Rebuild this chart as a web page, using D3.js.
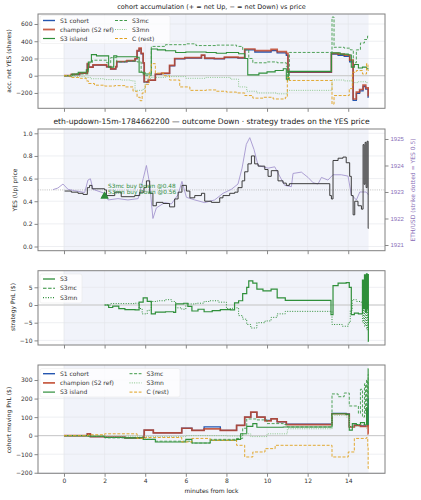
<!DOCTYPE html>
<html><head><meta charset="utf-8">
<script src="https://cdn.jsdelivr.net/npm/d3@7"></script>
<style>body{margin:0;background:#fff;} svg{display:block;font-family:"DejaVu Sans",sans-serif;}</style>
</head><body><svg id="c" width="421" height="500"></svg>
<script>
// ---------- data ----------
const xTickValues = [0,2,4,6,8,10,12,14];
const accTicks = [-200,0,200,400,600];
const priceTicks = [0,0.2,0.4,0.6,0.8,1.0];
const ethTicks = [1921,1922,1923,1924,1925];
const pnlTicks = [-10,-5,0,5];
const movTicks = [-200,-100,0,100,200,300];

const cohortNames = ["S1 cohort","champion (S2 ref)","S3 island","S3mc","S3mn","C (rest)"];
const stratNames = ["S3","S3mc","S3mn"];

// panel 1: accumulated net YES shares  [minutes, shares]
const accS1 = [[0,0],[0.36,12],[0.77,28],[1.15,135],[1.22,98],[1.43,122],[2.1,102],[2.3,78],[2.55,102],[2.6,160],[3.1,170],[3.5,195],[3.6,285],[3.7,312],[3.8,255],[3.9,145],[3.95,-75],[4.15,-55],[4.5,15],[4.8,25],[5.2,115],[5.45,195],[5.95,205],[6.77,235],[6.93,200],[7.4,195],[7.9,210],[8.57,205],[8.9,300],[9.4,275],[10.2,290],[10.5,265],[10.95,235],[11.03,40],[13.17,250],[13.5,235],[13.8,225],[14.07,160],[14.24,-285],[14.4,-205],[14.56,-175],[14.73,-125],[14.86,-155],[14.98,-250],[15.0,-250]];
const accChamp = [[0,0],[0.36,15],[0.77,30],[1.15,140],[1.22,100],[1.43,125],[2.1,105],[2.3,80],[2.55,105],[2.6,165],[3.1,175],[3.5,200],[3.6,290],[3.7,320],[3.8,260],[3.9,150],[3.95,-70],[4.15,-50],[4.5,20],[4.8,30],[5.2,120],[5.45,200],[5.95,210],[6.77,240],[6.93,205],[7.4,200],[7.9,215],[8.57,210],[8.9,310],[9.4,290],[10.2,305],[10.5,280],[10.95,260],[11.03,45],[13.17,260],[13.5,250],[13.8,240],[14.07,180],[14.24,-270],[14.4,-190],[14.56,-160],[14.73,-110],[14.86,-140],[14.98,-230],[15.0,-230]];
const accS3 = [[0,0],[0.4,20],[0.7,40],[1.1,70],[1.2,160],[1.35,245],[1.6,230],[2.1,230],[2.2,100],[2.45,230],[2.6,220],[3.0,220],[3.6,215],[3.7,40],[3.9,20],[4.3,310],[4.6,300],[5.0,290],[5.5,270],[6.0,275],[7.0,270],[7.5,260],[8.0,270],[8.6,255],[8.9,200],[9.05,10],[9.6,30],[10.0,45],[10.4,60],[10.8,80],[10.95,-40],[11.05,50],[13.17,265],[13.6,250],[14.0,240],[14.15,100],[14.3,130],[14.5,90],[14.7,100],[14.9,80],[15.0,80]];
const accS3mc = [[0,0],[0.5,20],[1.2,150],[1.4,180],[2.1,150],[2.3,210],[2.6,160],[3.0,170],[3.6,160],[3.8,40],[4.0,0],[4.3,340],[5.0,360],[6.0,370],[6.5,350],[7.5,355],[8.5,340],[8.8,300],[9.1,200],[9.3,150],[10.0,160],[10.5,150],[10.95,110],[11.0,-60],[11.1,270],[13.17,270],[13.2,680],[13.3,330],[13.8,320],[14.1,300],[14.25,150],[14.4,300],[14.6,380],[14.8,420],[14.95,460],[15.0,460]];
const accS3mn = [[0,0],[0.5,-10],[1.0,-20],[1.3,-35],[2.0,-45],[2.8,-50],[3.3,-60],[3.5,-170],[3.9,-150],[4.0,-30],[4.3,-20],[5.0,-10],[6.0,-30],[7.0,-20],[8.2,-40],[8.6,-130],[9.0,-180],[9.5,-200],[10.5,-210],[11.0,-170],[13.2,-50],[13.8,-60],[14.2,-80],[14.5,-70],[14.9,-80],[15.0,-80]];
const accRest = [[0,0],[0.3,-20],[0.8,-30],[1.1,-60],[1.2,-90],[1.5,-110],[2.0,-120],[2.5,-115],[3.0,-130],[3.4,-180],[3.6,-250],[3.75,-290],[3.85,-200],[4.0,-100],[4.2,40],[4.3,140],[4.5,30],[4.9,0],[5.2,-50],[5.7,-130],[6.2,-170],[7.0,-165],[7.5,-180],[8.0,-190],[8.5,-200],[8.9,-230],[9.3,-260],[9.8,-250],[10.3,-270],[10.9,-250],[11.0,-20],[11.1,-55],[13.15,-55],[13.2,-330],[13.3,-230],[13.9,-230],[14.05,-150],[14.2,40],[14.4,60],[14.7,20],[14.9,140],[14.97,60],[15.0,60]];

// panel 2: YES price (step) and ETH/USD
const yesPrice = [[0.03,0.49],[0.36,0.48],[0.69,0.47],[0.94,0.46],[1.15,0.52],[1.26,0.54],[1.38,0.51],[2.0,0.50],[2.09,0.45],[2.5,0.48],[2.82,0.44],[3.48,0.45],[3.73,0.48],[3.94,0.52],[4.06,0.58],[4.22,0.47],[4.38,0.36],[4.55,0.39],[4.88,0.38],[5.2,0.35],[5.45,0.42],[5.62,0.48],[5.81,0.54],[6.03,0.49],[6.2,0.43],[6.44,0.45],[6.77,0.47],[6.93,0.40],[7.26,0.39],[7.67,0.43],[7.83,0.45],[8.16,0.47],[8.41,0.48],[8.57,0.52],[8.77,0.58],[8.9,0.66],[9.06,0.73],[9.23,0.80],[9.39,0.73],[9.56,0.71],[9.89,0.68],[10.05,0.62],[10.21,0.67],[10.54,0.58],[10.79,0.56],[10.95,0.54],[11.1,0.555],[13.0,0.555],[13.09,0.45],[13.17,0.42],[13.25,0.76],[13.5,0.78],[13.74,0.79],[13.9,0.74],[14.07,0.62],[14.15,0.45],[14.24,0.28],[14.32,0.40],[14.48,0.36],[14.65,0.33],[14.73,0.90],[14.78,0.55],[14.83,0.92],[14.88,0.52],[14.93,0.93],[14.98,0.16],[15.0,0.16]];
const ethUsd = [[-0.54,1923.09],[-0.3,1923.15],[-0.05,1923.3],[0.2,1923.1],[0.53,1923.05],[1.02,1922.98],[1.18,1923.45],[1.3,1923.5],[1.43,1923.1],[2.0,1922.95],[2.17,1922.7],[2.66,1922.75],[3.15,1922.7],[3.65,1922.75],[3.9,1923.5],[4.06,1924.0],[4.22,1923.3],[4.38,1922.0],[4.55,1922.4],[4.96,1922.6],[5.29,1922.55],[5.62,1922.9],[5.81,1923.4],[6.03,1922.8],[6.44,1922.7],[6.93,1922.6],[7.42,1922.7],[7.83,1922.95],[8.24,1923.1],[8.57,1923.3],[8.77,1923.9],[8.98,1924.8],[9.15,1925.05],[9.36,1924.6],[9.56,1924.0],[10.05,1923.9],[10.38,1923.95],[10.62,1923.6],[10.87,1923.25],[11.2,1923.2],[11.28,1923.7],[11.69,1923.75],[12.02,1923.55],[12.27,1923.35],[12.51,1923.3],[12.68,1923.55],[13.0,1923.45],[13.25,1923.65],[13.66,1923.65],[13.99,1923.6],[14.15,1922.9],[14.4,1922.7],[14.57,1923.0],[14.89,1923.0],[14.98,1922.9]];
const strikeYes = 0.5;
const trades = [["S3mc buy Down @0.48",2.0,0.45],["S3mn buy Down @0.56",2.0,0.45]];

// panel 3: strategy PnL ($)
const pnlS3 = [[2.0,0],[2.2,-0.7],[2.4,-0.3],[2.7,-1.0],[3.0,-1.3],[3.5,-1.4],[3.7,0.8],[3.9,2.0],[4.1,1.0],[4.3,-2.5],[4.5,-2.0],[5.0,-1.9],[5.4,-2.1],[5.5,0.3],[5.9,0.5],[6.1,-0.4],[6.3,-1.7],[6.6,-1.2],[6.9,-1.9],[7.3,-1.6],[7.7,-1.3],[8.2,-1.4],[8.4,0.6],[8.6,1.2],[8.8,3.2],[9.0,5.0],[9.1,6.8],[9.3,6.2],[9.5,4.5],[9.8,4.0],[10.2,4.5],[10.5,2.0],[10.9,1.3],[13.1,1.3],[13.15,-2.7],[13.25,5.5],[13.5,6.2],[13.9,6.3],[14.05,5.0],[14.15,-2.7],[14.3,-2.3],[14.5,-2.5],[14.7,7.0],[14.75,-1],[14.8,8.5],[14.85,-2],[14.9,8.8],[14.93,-1],[14.96,8.6],[14.99,-10.3],[15.0,-10.3]];
const pnlS3mc = [];
const pnlS3mn = [[2.0,0],[2.3,0.4],[3.5,0.5],[3.7,-1.0],[3.85,-2.5],[4.1,-1.5],[4.3,1.0],[4.6,1.2],[5.0,1.5],[5.3,1.0],[5.5,-0.8],[5.8,-1.2],[6.0,0.3],[6.5,0.5],[6.9,1.0],[7.2,1.2],[7.6,0.8],[8.0,-1.0],[8.3,-0.8],[8.6,-3.0],[8.8,-4.0],[9.0,-5.5],[9.2,-6.5],[9.5,-5.0],[9.9,-4.5],[10.2,-3.5],[10.5,-2.5],[10.9,-1.8],[13.1,-1.8],[13.2,-5.5],[13.7,-6.0],[14.0,-5.0],[14.1,-1.5],[14.2,1.5],[14.4,1.0],[14.6,0.8],[14.7,-5],[14.75,0],[14.8,-6],[14.85,0.5],[14.9,-7],[14.95,1],[14.99,-4],[15.0,-4]];

// panel 4: cohort moving PnL ($)
const movS1 = [[0,0],[1.15,10],[1.3,-5],[2.0,-8],[3.0,-12],[3.9,-8],[3.95,30],[4.4,15],[5.0,15],[5.8,40],[6.3,28],[6.9,47],[7.7,28],[8.5,55],[8.9,100],[9.2,125],[9.5,100],[9.9,82],[10.2,92],[10.5,75],[10.95,62],[13.15,62],[13.2,120],[13.9,117],[14.05,49],[14.3,57],[14.6,52],[14.9,57],[14.98,200],[15.0,200]];
const movChamp = [[0,0],[1.15,10],[1.3,-5],[2.0,-8],[3.0,-12],[3.9,-8],[3.95,30],[4.4,15],[5.0,15],[5.8,40],[6.3,28],[6.9,37],[7.7,28],[8.5,55],[8.9,100],[9.2,127],[9.5,100],[9.9,80],[10.2,90],[10.5,75],[10.95,60],[13.15,60],[13.2,118],[13.9,115],[14.05,47],[14.3,55],[14.6,50],[14.9,55],[14.98,10],[15.0,10]];
const movS3 = [[0,0],[1.2,-3],[2.0,-10],[3.0,-12],[3.9,-20],[4.5,-34],[6.0,-20],[6.3,-40],[7.2,-25],[8.5,-20],[8.7,10],[9.0,50],[9.3,65],[9.5,45],[10.0,45],[10.8,47],[13.15,47],[13.2,118],[13.9,115],[14.05,30],[14.2,65],[14.4,60],[14.6,70],[14.8,60],[14.9,150],[14.95,60],[14.98,360],[15.0,360]];
const movS3mc = [[0,0],[1.2,-3],[2.0,-12],[3.9,-20],[4.5,-30],[6.3,-40],[7.2,-20],[8.5,-15],[8.8,40],[9.0,90],[9.5,85],[10.0,65],[10.8,60],[11.0,47],[13.15,47],[13.2,225],[13.5,210],[13.8,230],[14.05,160],[14.3,160],[14.5,120],[14.6,250],[14.7,100],[14.8,280],[14.85,120],[14.9,300],[14.95,150],[14.98,330],[15.0,330]];
const movS3mn = [[0,0],[2.0,-3],[4.0,-5],[6.0,0],[8.0,-2],[8.8,10],[9.2,-5],[10.0,10],[11.0,37],[13.15,37],[13.2,110],[13.9,100],[14.05,50],[14.5,60],[14.9,40],[15.0,40]];
const movRest = [[0,0],[1.2,5],[2.0,10],[3.6,-15],[4.0,-10],[5.8,-34],[6.3,-15],[7.2,-25],[8.5,-52],[8.9,-115],[9.3,-88],[9.9,-70],[10.4,-52],[13.15,-52],[13.2,-115],[14.0,-88],[14.3,-15],[14.9,-10],[14.96,-60],[14.98,-177],[15.0,-177]];

// ---------- drawing ----------
const svg = d3.select("#c");
const X0 = 38, X1 = 385;
const x = d3.scaleLinear().domain([-1.28, 15.81]).range([X0, X1]);
const FONT = 6;

const cohortStyles = [
  {c:"#2556b0", w:1.3, d:null, o:1},
  {c:"#c0452a", w:1.7, d:null, o:0.85},
  {c:"#2f8f3a", w:1.1, d:null, o:1},
  {c:"#3f9a48", w:0.9, d:"3,1.6", o:1},
  {c:"#86c486", w:0.9, d:"1,1.3", o:1},
  {c:"#e0a01c", w:0.9, d:"3,1.6", o:1}
];
const stratStyles = [
  {c:"#2f8f3a", w:1.2, d:null, o:1},
  {c:"#2f8f3a", w:1.0, d:"3.5,1.6", o:1},
  {c:"#2f8f3a", w:1.0, d:"1,1.5", o:1}
];

let clipN = 0;
function panel(top, bottom, dom, ticks, showX) {
  const y = d3.scaleLinear().domain(dom).range([bottom, top]);
  const g = svg.append("g");
  g.append("rect").attr("x", X0).attr("y", top).attr("width", X1 - X0).attr("height", bottom - top).attr("fill", "#fff");
  g.append("rect").attr("x", x(0)).attr("y", top).attr("width", x(15) - x(0)).attr("height", bottom - top).attr("fill", "#f1f3fa");
  g.selectAll(null).data(xTickValues).join("line")
    .attr("x1", d => x(d)).attr("x2", d => x(d)).attr("y1", top).attr("y2", bottom)
    .attr("stroke", "#e2e4e9").attr("stroke-width", 0.6);
  g.selectAll(null).data(ticks).join("line")
    .attr("x1", X0).attr("x2", X1).attr("y1", d => y(d)).attr("y2", d => y(d))
    .attr("stroke", "#e2e4e9").attr("stroke-width", 0.6);
  const id = "clip" + (clipN++);
  svg.append("clipPath").attr("id", id).append("rect")
    .attr("x", X0).attr("y", top).attr("width", X1 - X0).attr("height", bottom - top);
  const plot = g.append("g").attr("clip-path", `url(#${id})`);
  const ya = g.append("g").attr("transform", `translate(${X0},0)`)
    .call(d3.axisLeft(y).tickValues(ticks).tickSize(3.5).tickPadding(2)
      .tickFormat(d => d3.format(Math.abs(dom[1]-dom[0]) < 3 ? ".1f" : "d")(d)));
  const xa = g.append("g").attr("transform", `translate(0,${bottom})`)
    .call(d3.axisBottom(x).tickValues(xTickValues).tickSize(3.5).tickPadding(2)
      .tickFormat(showX ? d3.format("d") : () => ""));
  [ya, xa].forEach(a => {
    a.select(".domain").remove();
    a.selectAll(".tick line").attr("stroke", "#555").attr("stroke-width", 0.7);
    a.selectAll(".tick text").attr("font-size", FONT).attr("fill", "#333").attr("font-family", "DejaVu Sans");
  });
  return {g, y, plot, top, bottom};
}
function frame(p) {
  p.g.append("rect").attr("x", X0).attr("y", p.top).attr("width", X1 - X0).attr("height", p.bottom - p.top)
    .attr("fill", "none").attr("stroke", "#808080").attr("stroke-width", 1);
}
function stepLine(p, data, s) {
  const line = d3.line().x(d => x(d[0])).y(d => p.y(d[1])).curve(d3.curveStepAfter);
  p.plot.append("path").datum(data).attr("d", line).attr("fill", "none")
    .attr("stroke", s.c).attr("stroke-width", s.w).attr("stroke-opacity", s.o)
    .attr("stroke-dasharray", s.d);
}
function zeroLine(p) {
  p.plot.append("line").attr("x1", X0).attr("x2", X1).attr("y1", p.y(0)).attr("y2", p.y(0))
    .attr("stroke", "#c8c8c8").attr("stroke-width", 1);
}
function legend(p, names, styles, x0, y0, rowH, colX, ncolRows, box) {
  const lg = p.g.append("g");
  lg.append("rect").attr("x", box[0]).attr("y", box[1]).attr("width", box[2]).attr("height", box[3])
    .attr("rx", 2).attr("fill", "#fff").attr("fill-opacity", 0.75).attr("stroke", "#e6e6e6").attr("stroke-width", 0.5);
  names.forEach((n, i) => {
    const col = Math.floor(i / ncolRows), row = i % ncolRows;
    const lx = x0 + colX[col], ly = y0 + row * rowH, s = styles[i];
    lg.append("line").attr("x1", lx).attr("x2", lx + 12).attr("y1", ly).attr("y2", ly)
      .attr("stroke", s.c).attr("stroke-width", s.w + 0.1).attr("stroke-opacity", s.o).attr("stroke-dasharray", s.d);
    lg.append("text").attr("x", lx + 17).attr("y", ly).attr("dy", "0.35em")
      .attr("font-size", FONT).attr("fill", "#333").text(n);
  });
}
function yLabel(text, cx, cy, color) {
  svg.append("text").attr("transform", `translate(${cx},${cy}) rotate(-90)`)
    .attr("text-anchor", "middle").attr("dy", "0.35em").attr("font-size", FONT)
    .attr("fill", color || "#222").text(text);
}

// panel 1
const p1 = panel(14, 108.3, [-378, 716], accTicks, false);
zeroLine(p1);
[accS1, accChamp, accS3, accS3mc, accS3mn, accRest].forEach((d, i) => stepLine(p1, d, cohortStyles[i]));
legend(p1, cohortNames, cohortStyles, 43, 20.5, 9, [0, 72], 3, [40, 15.5, 130, 28]);
frame(p1);
svg.append("text").attr("x", 211.5).attr("y", 7).attr("dy", "0.35em").attr("text-anchor", "middle")
  .attr("font-size", 6.5).attr("fill", "#222").text("cohort accumulation (+ = net Up, − = net Down) vs price");
yLabel("acc. net YES (shares)", 9, 61);

// panel 2
const p2 = panel(129, 250.7, [-0.037, 1.038], priceTicks, false);
const yEth = d3.scaleLinear().domain([1920.785, 1925.377]).range([250.7, 129]);
p2.plot.append("line").attr("x1", X0).attr("x2", X1).attr("y1", p2.y(strikeYes)).attr("y2", p2.y(strikeYes))
  .attr("stroke", "#b0b0b0").attr("stroke-width", 0.8).attr("stroke-dasharray", "1,1.2");
p2.plot.append("path").datum(ethUsd)
  .attr("d", d3.line().x(d => x(d[0])).y(d => yEth(d[1])))
  .attr("fill", "none").attr("stroke", "#a596cf").attr("stroke-width", 0.9);
stepLine(p2, yesPrice, {c:"#333", w:1.0, d:null, o:0.95});
trades.forEach((t, i) => {
  p2.plot.append("path").attr("d", d3.symbol(d3.symbolTriangle, 28)())
    .attr("transform", `translate(${x(t[1])},${p2.y(t[2]) + 0.5})`).attr("fill", "#2e8b3a");
  p2.plot.append("text").attr("x", x(t[1]) + 3.5).attr("y", p2.y(t[2]) - 10 + i * 6.2)
    .attr("dy", "0.35em").attr("font-size", 5.8).attr("fill", "#2e8b3a").text(t[0]);
});
const ra = p2.g.append("g").attr("transform", `translate(${X1},0)`)
  .call(d3.axisRight(yEth).tickValues(ethTicks).tickSize(3.5).tickPadding(2).tickFormat(d3.format("d")));
ra.select(".domain").remove();
ra.selectAll(".tick line").attr("stroke", "#555").attr("stroke-width", 0.7);
ra.selectAll(".tick text").attr("font-size", FONT).attr("fill", "#8a6fb8");
frame(p2);
svg.append("text").attr("x", 211.5).attr("y", 121.7).attr("dy", "0.35em").attr("text-anchor", "middle")
  .attr("font-size", 7.6).attr("fill", "#222").text("eth-updown-15m-1784662200 — outcome Down · strategy trades on the YES price");
yLabel("YES (Up) price", 14.5, 190);
yLabel("ETH/USD (strike dotted = YES 0.5)", 412.5, 190, "#8a6fb8");

// panel 3
const p3 = panel(270.7, 345, [-11.3, 9.69], pnlTicks, false);
zeroLine(p3);
[pnlS3, pnlS3mc, pnlS3mn].forEach((d, i) => { if (d.length) stepLine(p3, d, stratStyles[i]); });
legend(p3, stratNames, stratStyles, 43, 279, 9.3, [0], 3, [40, 274, 42, 29]);
frame(p3);
yLabel("strategy PnL ($)", 13.3, 307);

// panel 4
const p4 = panel(365, 473.3, [-203, 381], movTicks, true);
zeroLine(p4);
[movS1, movChamp, movS3, movS3mc, movS3mn, movRest].forEach((d, i) => stepLine(p4, d, cohortStyles[i]));
legend(p4, cohortNames, cohortStyles, 43, 373.7, 9.2, [0, 86.5], 3, [40, 368.5, 140, 28.5]);
frame(p4);
yLabel("cohort moving PnL ($)", 8.7, 420);
svg.append("text").attr("x", 211.5).attr("y", 490.7).attr("dy", "0.35em").attr("text-anchor", "middle")
  .attr("font-size", FONT).attr("fill", "#222").text("minutes from lock");
</script></body></html>
